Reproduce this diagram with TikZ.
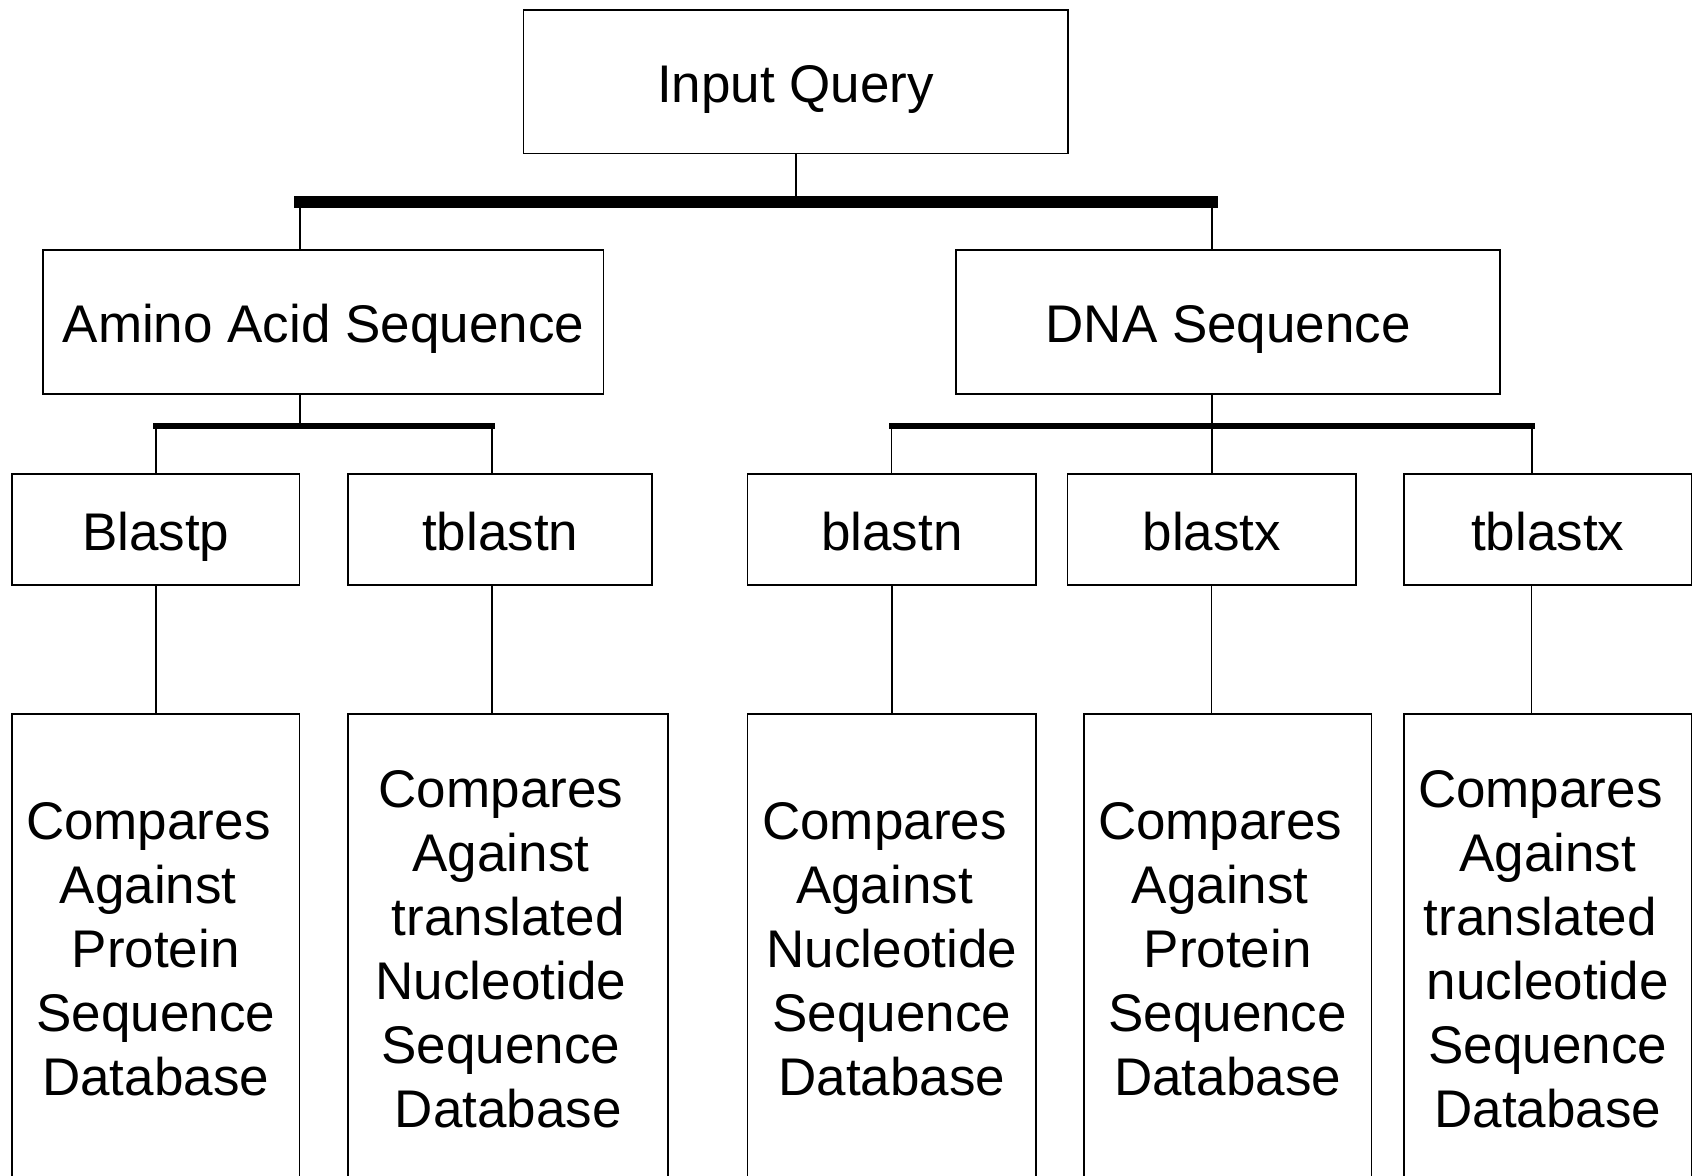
\documentclass[tikz,border=0pt]{standalone}
\usepackage{fontspec}
\setmainfont{Liberation Sans}
\newcommand\trsp{\rule{0.278em}{0pt}}
\begin{document}
\begin{tikzpicture}[x=1pt,y=-1pt,
  box/.style={draw, line width=1.8pt, inner sep=0pt, align=center, font=\fontsize{53}{64}\selectfont},
  oneline/.style={box, text height=53pt, text depth=11pt},
  link/.style={line width=1.8pt},
  bigbar/.style={line width=11.7pt},
  smallbar/.style={line width=5.7pt}]
\useasboundingbox (0,0) rectangle (1696,1175);
\clip (0,0) rectangle (1696,1175);
% level 1 and 2
\node[oneline, minimum width=544.1pt, minimum height=143.9pt] (query) at (795.6,81.6) {Input Query};
\node[oneline, minimum width=560.2pt, minimum height=143.8pt] (amino) at (323.4,321.8) {Amino Acid Sequence};
\node[oneline, minimum width=544pt, minimum height=143.8pt] (dna) at (1228.2,321.8) {DNA Sequence};
% level 3
\node[oneline, minimum width=287.7pt, minimum height=111.5pt] (blastp) at (155.7,529.5) {Blastp};
\node[oneline, minimum width=303.9pt, minimum height=111.5pt] (tblastn) at (500.2,529.5) {tblastn};
\node[oneline, minimum width=288.8pt, minimum height=111.5pt] (blastn) at (891.8,529.5) {blastn};
\node[oneline, minimum width=288.8pt, minimum height=111.5pt] (blastx) at (1211.9,529.5) {blastx};
\node[oneline, minimum width=287.7pt, minimum height=111.5pt] (tblastx) at (1547.7,529.5) {tblastx};
% level 4
\node[box, minimum width=287.7pt, minimum height=471.2pt] (d1) at (155.7,949.5) {Compares\trsp\\Against\trsp\\Protein\\Sequence\\Database};
\node[box, minimum width=320.1pt, minimum height=471.2pt] (d2) at (508.3,949.5) {Compares\trsp\\Against\trsp\\translated\\Nucleotide\trsp\\Sequence\trsp\\Database};
\node[box, minimum width=288.8pt, minimum height=471.2pt] (d3) at (891.8,949.5) {Compares\trsp\\Against\trsp\\Nucleotide\\Sequence\\Database};
\node[box, minimum width=287.7pt, minimum height=471.2pt] (d4) at (1227.6,949.5) {Compares\trsp\\Against\trsp\\Protein\\Sequence\\Database};
\node[box, minimum width=287.7pt, minimum height=471.2pt] (d5) at (1547.7,949.5) {Compares\trsp\\Against\\translated\trsp\\nucleotide\\Sequence\\Database};
% top bar
\coordinate (b1l) at (294,201.8);
\coordinate (b1r) at (1218,201.8);
\draw[bigbar] (b1l) -- (b1r);
\draw[link] (query.south) -- (query.south |- b1l);
\coordinate (t1) at (300,201.8);
\coordinate (t2) at (1212,201.8);
\draw[link] (t1) -- (t1 |- amino.north);
\draw[link] (t2) -- (t2 |- dna.north);
% left sub bar
\coordinate (b2l) at (153.3,426.2);
\coordinate (b2r) at (495,426.2);
\draw[smallbar] (b2l) -- (b2r);
\coordinate (a0) at (300.3,426.2);
\draw[link] (a0 |- amino.south) -- (a0);
\coordinate (a1) at (155.7,426.2);
\coordinate (a2) at (492.1,426.2);
\draw[link] (a1) -- (a1 |- blastp.north);
\draw[link] (a2) -- (a2 |- tblastn.north);
% right sub bar
\coordinate (b3l) at (889,426.2);
\coordinate (b3r) at (1535,426.2);
\draw[smallbar] (b3l) -- (b3r);
\coordinate (c0) at (1212,426.2);
\draw[link] (c0 |- dna.south) -- (c0);
\coordinate (c1) at (891.4,426.2);
\coordinate (c2) at (1212,426.2);
\coordinate (c3) at (1531.6,426.2);
\draw[link] (c1) -- (c1 |- blastn.north);
\draw[link] (c2) -- (c2 |- blastx.north);
\draw[link] (c3) -- (c3 |- tblastx.north);
% level 3 to level 4
\coordinate (e1) at (155.7,0);
\coordinate (e2) at (492.1,0);
\coordinate (e3) at (892.3,0);
\coordinate (e4) at (1211.4,0);
\coordinate (e5) at (1531.5,0);
\draw[link] (e1 |- blastp.south) -- (e1 |- d1.north);
\draw[link] (e2 |- tblastn.south) -- (e2 |- d2.north);
\draw[link] (e3 |- blastn.south) -- (e3 |- d3.north);
\draw[link] (e4 |- blastx.south) -- (e4 |- d4.north);
\draw[link] (e5 |- tblastx.south) -- (e5 |- d5.north);
\end{tikzpicture}
\end{document}
